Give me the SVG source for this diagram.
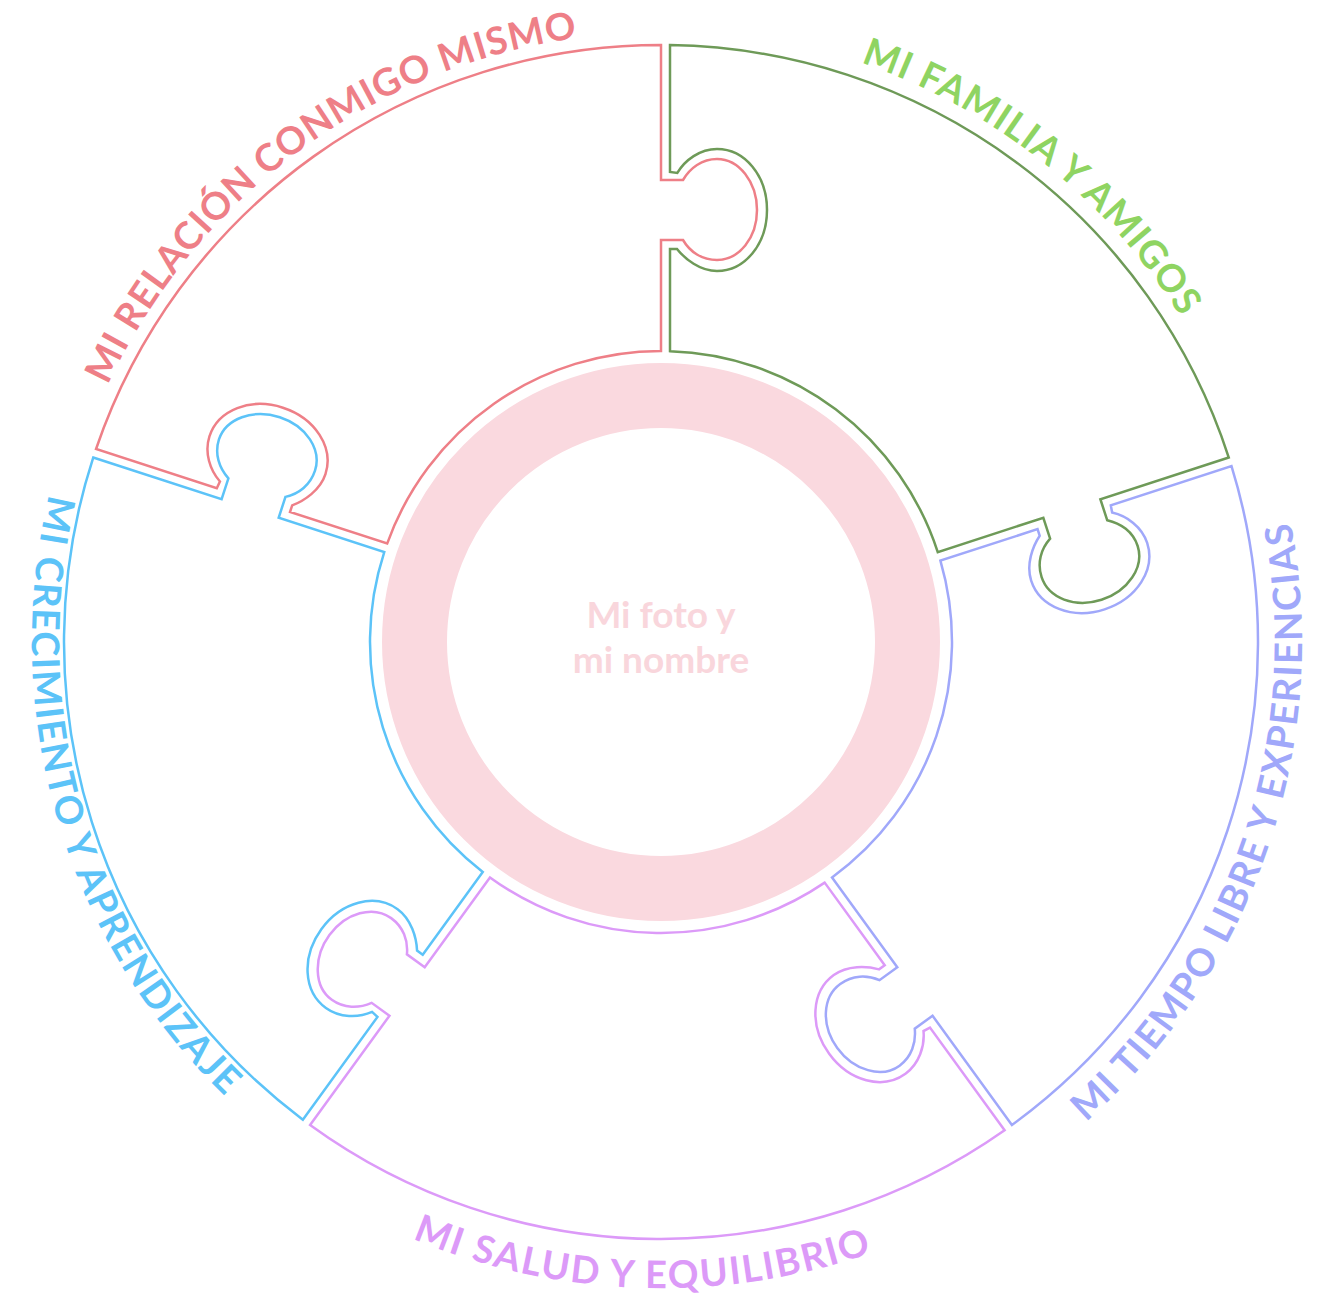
<svg xmlns="http://www.w3.org/2000/svg" width="1317" height="1302" viewBox="0 0 1317 1302">
<style>
.piece{fill:none;stroke-width:2.5;stroke-linejoin:miter}
.lbl{font-family:Lato,"Open Sans","Liberation Sans",sans-serif;font-weight:700;font-size:38px}
.ctr{font-family:Lato,"Open Sans","Liberation Sans",sans-serif;font-weight:700;font-size:37px;fill:#F9D6DC;text-anchor:middle}
</style>
<defs>
<path id="shape" d="M 661 45 L 661 180 L 683 180 C 690 168 702 159 717 159 C 739 159 757 182 757 210 C 757 238 739 260 717 260 C 702 260 690 252 683 240 L 661 240 L 661 351 A 291 291 0 0 0 387.157 543.559 L 290.016 511.996 L 292.179 505.339 C 304.161 500.821 320.210 490.264 325.463 474.096 C 334.115 447.466 315.235 418.199 282.899 407.693 C 250.563 397.186 218.086 409.766 209.434 436.396 C 204.181 452.564 210.007 470.229 219.947 481.545 L 216.784 488.202 L 96.065 448.979 A 597 597 0 0 1 661 45 Z"/>
<path id="arc1" d="M 167.50 1000.55 A 610 610 0 0 1 1154.50 283.45"/>
<path id="arc2" d="M 165.07 281.69 A 613 613 0 0 1 1156.93 1002.31"/>
<path id="arc3" d="M 462.92 1251.63 A 641 641 0 0 0 859.08 32.37"/>
<path id="arc4" d="M 14.5 642 A 646.5 646.5 0 0 0 1307.5 642"/>
<path id="arc5" d="M 465.70 40.94 A 632 632 0 0 0 856.30 1243.06"/>
</defs>
<rect width="1317" height="1302" fill="#ffffff"/>
<g id="connectors"></g>
<g id="node-center">
<circle cx="661" cy="642" r="246.5" fill="none" stroke="#FAD9DF" stroke-width="65"/>
<text class="ctr" x="661" y="628">Mi foto y</text>
<text class="ctr" x="661" y="673">mi nombre</text>
</g>
<g id="node-relacion">
<use href="#shape" class="piece" stroke="#EE7F87"/>
<text class="lbl" fill="#EE7F87" transform="rotate(-0.5 661 642)"><textPath href="#arc1" startOffset="50%" text-anchor="middle" textLength="609">MI RELACIÓN CONMIGO MISMO</textPath></text>
</g>
<g id="node-familia">
<use href="#shape" class="piece" stroke="#6E9A58" transform="rotate(72 661 642)"/>
<text class="lbl" fill="#8FD462" transform="rotate(2.5 661 642)"><textPath href="#arc2" startOffset="50%" text-anchor="middle" textLength="417">MI FAMILIA Y AMIGOS</textPath></text>
</g>
<g id="node-tiempo">
<use href="#shape" class="piece" stroke="#A0A8FA" transform="rotate(144 661 642)"/>
<text class="lbl" fill="#A0A8FA" transform="rotate(0.85 661 642)"><textPath href="#arc3" startOffset="50%" text-anchor="middle" textLength="663">MI TIEMPO LIBRE Y EXPERIENCIAS</textPath></text>
</g>
<g id="node-salud">
<use href="#shape" class="piece" stroke="#DC9AF8" transform="rotate(216 661 642)"/>
<text class="lbl" fill="#DC9AF8" transform="rotate(1.8 661 642)"><textPath href="#arc4" startOffset="50%" text-anchor="middle" textLength="470">MI SALUD Y EQUILIBRIO</textPath></text>
</g>
<g id="node-crecimiento">
<use href="#shape" class="piece" stroke="#5CC3F8" transform="rotate(288 661 642)"/>
<text class="lbl" fill="#5CC3F8" transform="rotate(1.7 661 642)"><textPath href="#arc5" startOffset="50%" text-anchor="middle" textLength="656">MI CRECIMIENTO Y APRENDIZAJE</textPath></text>
</g>
</svg>
